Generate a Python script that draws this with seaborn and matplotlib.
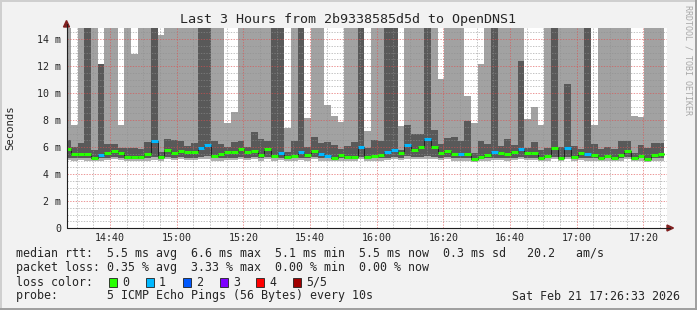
import numpy as np
import pandas as pd
import matplotlib
matplotlib.use("Agg")
import matplotlib.pyplot as plt
from matplotlib.patches import Rectangle, Polygon
from matplotlib.lines import Line2D
import seaborn as sns

# ---------------- data ----------------
# time axis in minutes after 14:00; each bar is a 2-minute consolidated step
first_bar_start = 26 + 20 / 60.0      # 14:26:20
bar_minutes = 2.0
view_start = 26.95
view_end = 206.95

median_ms = [5.87, 5.50, 5.50, 5.50, 5.21, 5.41, 5.58, 5.73, 5.58, 5.26,
             5.26, 5.26, 5.50, 6.45, 5.26, 5.81, 5.58, 5.73, 5.66, 5.66,
             5.95, 6.17, 5.37, 5.45, 5.66, 5.66, 5.83, 5.66, 5.73, 5.41,
             5.83, 5.34, 5.58, 5.29, 5.37, 5.66, 5.41, 5.73, 5.50, 5.37,
             5.21, 5.43, 5.29, 5.29, 6.02, 5.26, 5.37, 5.43, 5.66, 5.81,
             5.56, 6.17, 5.81, 6.02, 6.59, 6.00, 5.58, 5.73, 5.50, 5.50,
             5.50, 5.14, 5.29, 5.43, 5.66, 5.58, 5.50, 5.66, 5.88, 5.58,
             5.58, 5.21, 5.37, 5.95, 5.21, 5.95, 5.29, 5.58, 5.50, 5.43,
             5.21, 5.37, 5.21, 5.43, 5.73, 5.21, 5.37, 5.14, 5.43, 5.50]

loss_count = [0, 0, 0, 0, 0, 1, 0, 0, 0, 0,
              0, 0, 0, 1, 0, 0, 0, 0, 0, 0,
              1, 1, 0, 0, 0, 0, 0, 0, 0, 0,
              0, 0, 1, 0, 0, 1, 0, 0, 1, 1,
              0, 0, 0, 0, 1, 0, 0, 0, 1, 1,
              0, 1, 0, 0, 1, 0, 0, 0, 0, 1,
              0, 0, 0, 0, 1, 0, 0, 0, 1, 0,
              0, 0, 0, 0, 0, 1, 0, 0, 1, 0,
              0, 0, 0, 0, 0, 0, 0, 0, 0, 0]

smoke_lo = [5.05, 5.00, 5.02, 5.00, 4.93, 4.98, 5.03, 5.08, 5.05, 4.93,
            4.95, 4.93, 5.00, 5.05, 4.95, 5.08, 5.03, 5.08, 5.05, 5.05,
            5.10, 5.10, 4.98, 5.00, 5.05, 5.05, 5.08, 5.03, 5.08, 4.98,
            5.08, 4.98, 5.03, 4.95, 4.98, 5.05, 4.98, 5.08, 5.00, 4.98,
            4.93, 5.00, 4.95, 4.95, 5.10, 4.93, 4.98, 5.00, 5.05, 5.08,
            5.03, 5.10, 5.08, 5.10, 5.12, 5.10, 5.03, 5.08, 5.00, 5.00,
            5.00, 4.90, 4.95, 5.00, 5.05, 5.03, 5.00, 5.05, 5.08, 5.03,
            5.03, 4.93, 4.98, 5.08, 4.93, 5.08, 4.95, 5.03, 5.00, 5.00,
            4.93, 4.98, 4.93, 5.00, 5.08, 4.93, 4.98, 4.90, 5.00, 5.00]

dark_lo = [5.22, 5.18, 5.20, 5.18, 5.10, 5.16, 5.20, 5.25, 5.22, 5.10,
           5.12, 5.10, 5.18, 5.25, 5.12, 5.25, 5.20, 5.25, 5.22, 5.22,
           5.28, 5.30, 5.15, 5.18, 5.22, 5.22, 5.25, 5.20, 5.25, 5.16,
           5.25, 5.15, 5.20, 5.12, 5.15, 5.22, 5.16, 5.25, 5.18, 5.15,
           5.10, 5.18, 5.12, 5.12, 5.28, 5.10, 5.15, 5.18, 5.22, 5.25,
           5.20, 5.30, 5.25, 5.28, 5.32, 5.28, 5.20, 5.25, 5.18, 5.18,
           5.18, 5.06, 5.12, 5.18, 5.22, 5.20, 5.18, 5.22, 5.25, 5.20,
           5.20, 5.10, 5.15, 5.25, 5.10, 5.25, 5.12, 5.20, 5.18, 5.18,
           5.10, 5.15, 5.10, 5.18, 5.25, 5.10, 5.15, 5.06, 5.18, 5.18]

dark_hi = [6.52, 6.02, 6.32, 15.0, 5.78, 12.15, 6.20, 6.20, 5.90, 5.90,
           5.90, 5.85, 6.40, 15.0, 5.66, 6.59, 6.52, 6.44, 6.07, 6.32,
           15.0, 15.0, 6.44, 6.20, 6.02, 6.40, 6.44, 6.02, 7.11, 6.57,
           6.44, 15.0, 15.0, 5.66, 6.44, 15.0, 6.02, 6.74, 6.27, 6.37,
           6.15, 5.85, 6.07, 6.37, 15.0, 5.90, 6.52, 6.44, 15.0, 15.0,
           5.75, 7.63, 6.96, 6.96, 15.0, 7.23, 6.22, 6.64, 6.74, 6.44,
           7.93, 5.53, 6.44, 6.20, 15.0, 6.07, 6.59, 6.15, 12.37, 5.95,
           6.40, 5.78, 5.95, 15.0, 6.02, 10.67, 6.07, 5.85, 15.0, 6.22,
           5.85, 6.02, 5.85, 6.44, 6.44, 5.55, 6.15, 5.95, 6.32, 6.32]

smoke_hi = [15.0, 7.65, 15.0, 15.0, 15.0, 12.15, 15.0, 15.0, 7.65, 15.0,
            12.89, 15.0, 15.0, 15.0, 14.32, 15.0, 15.0, 15.0, 15.0, 15.0,
            15.0, 15.0, 15.0, 15.0, 7.80, 8.62, 15.0, 15.0, 15.0, 15.0,
            15.0, 15.0, 15.0, 7.41, 15.0, 15.0, 8.17, 15.0, 15.0, 9.11,
            8.30, 7.88, 15.0, 15.0, 15.0, 7.19, 15.0, 15.0, 15.0, 15.0,
            7.56, 15.0, 15.0, 15.0, 15.0, 15.0, 11.06, 15.0, 15.0, 15.0,
            9.78, 7.80, 12.15, 15.0, 15.0, 15.0, 15.0, 15.0, 15.0, 8.05,
            8.96, 7.63, 15.0, 15.0, 15.0, 15.0, 15.0, 15.0, 15.0, 7.63,
            15.0, 15.0, 15.0, 15.0, 15.0, 8.30, 8.23, 15.0, 15.0, 15.0]

x_tick_minutes = [40, 60, 80, 100, 120, 140, 160, 180, 200]
x_tick_labels = ["14:40", "15:00", "15:20", "15:40", "16:00",
                 "16:20", "16:40", "17:00", "17:20"]
y_tick_values = [0, 2, 4, 6, 8, 10, 12, 14]
y_tick_labels = ["0", "2 m", "4 m", "6 m", "8 m", "10 m", "12 m", "14 m"]

loss_labels = ["0", "1", "2", "3", "4", "5/5"]
loss_colors = ["#26ff00", "#00b8ff", "#0059ff", "#7e00ff", "#ff0000", "#a10000"]

title = "Last 3 Hours from 2b9338585d5d to OpenDNS1"
legend_rtt = "median rtt:  5.5 ms avg  6.6 ms max  5.1 ms min  5.5 ms now  0.3 ms sd   20.2   am/s"
legend_loss = "packet loss: 0.35 % avg  3.33 % max  0.00 % min  0.00 % now"
legend_probe = "probe:       5 ICMP Echo Pings (56 Bytes) every 10s"
stamp = "Sat Feb 21 17:26:33 2026"

# ---------------- style ----------------
sns.set_theme(style="white")
MONO = ["DejaVu Sans Mono", "DejaVu Sans"]
plt.rcParams["font.family"] = MONO

W, H = 697, 310
BACK = "#f2f2f2"
LIGHT = "#a2a2a2"
DARK = "#595959"
LOW = "#b0b0b0"

fig = plt.figure(figsize=(W / 100, H / 100), dpi=100, facecolor=BACK)

def fx(px):
    return px / W

def fy(py):
    return 1 - py / H

ax_left, ax_top, ax_w, ax_h = 66.5, 28, 600, 200
ax = fig.add_axes([fx(ax_left), fy(ax_top + ax_h), ax_w / W, ax_h / H])
ax.set_facecolor("white")
ax.set_xlim(view_start, view_end)
ax.set_ylim(0, 14.815)
for s in ax.spines.values():
    s.set_visible(False)

n = len(median_ms)
bar_x = [first_bar_start + bar_minutes * i for i in range(n)]
df = pd.DataFrame({"t": bar_x, "med": median_ms, "loss": loss_count,
                   "lo": smoke_lo, "dlo": dark_lo, "dhi": dark_hi, "hi": smoke_hi})

# smoke layers
ax.bar(df.t, df.dlo - df.lo, bottom=df.lo, width=bar_minutes, align="edge",
       color=LOW, linewidth=0, zorder=1)
ax.bar(df.t, df.dhi - df.dlo, bottom=df.dlo, width=bar_minutes, align="edge",
       color=DARK, linewidth=0, zorder=1)
ax.bar(df.t, (df.hi - df.dhi).clip(lower=0), bottom=df.dhi, width=bar_minutes,
       align="edge", color=LIGHT, linewidth=0, zorder=1)

# grid (dotted, drawn over the smoke)
GRID = (0.56, 0.56, 0.56, 0.55)
MGRID = (0.87, 0.31, 0.31, 0.6)
dot = (0, (1.4, 1.4))
for v in np.arange(0.5, 14.8, 0.5):
    if abs(v % 2) > 1e-6:
        ax.axhline(v, color=GRID, lw=0.7, ls=dot, zorder=2)
for m in range(30, 207, 5):
    if m % 20 != 0:
        ax.axvline(m, color=GRID, lw=0.7, ls=dot, zorder=2)
for v in y_tick_values[1:]:
    ax.axhline(v, color=MGRID, lw=0.7, ls=dot, zorder=2)
for m in x_tick_minutes:
    ax.axvline(m, color=MGRID, lw=0.7, ls=dot, zorder=2)

# median line
step_x = bar_x + [bar_x[-1] + bar_minutes]
step_y = median_ms + [median_ms[-1]]
sns.lineplot(x=step_x, y=step_y, drawstyle="steps-post", color="#202020",
             lw=0.7, ax=ax, zorder=3, estimator=None, sort=False)
ax.hlines(df.med, df.t, df.t + bar_minutes,
          colors=[loss_colors[k] for k in df.loss], lw=2.2, zorder=4)

# ticks
ax.set_xticks(x_tick_minutes, x_tick_labels)
ax.set_xticks(range(30, 207, 5), minor=True)
ax.set_yticks(y_tick_values, y_tick_labels)
ax.set_yticks(np.arange(0, 14.8, 0.5), minor=True)
ax.tick_params(axis="both", which="major", direction="inout", length=3,
               width=0.7, color="#1f1f1f", labelsize=7.2, pad=2.5)
ax.tick_params(axis="both", which="minor", direction="inout", length=2,
               width=0.7, color="#1f1f1f")
ax.tick_params(axis="x", pad=2.0)
ax.set_xlabel("")
ax.set_ylabel("")

# axes lines + arrows
AX = "#1f1f1f"
ARROW = "#801f1f"
fig.add_artist(Line2D([fx(ax_left), fx(ax_left)], [fy(228), fy(24)], color=AX, lw=0.8))
fig.add_artist(Line2D([fx(ax_left), fx(670)], [fy(228), fy(228)], color=AX, lw=0.8))
fig.add_artist(Polygon([[fx(63.5), fy(27)], [fx(69.5), fy(27)], [fx(66.5), fy(20.5)]],
                       closed=True, color=ARROW, transform=fig.transFigure))
fig.add_artist(Polygon([[fx(667), fy(225)], [fx(667), fy(231)], [fx(673.5), fy(228)]],
                       closed=True, color=ARROW, transform=fig.transFigure))

# texts
fig.text(fx(348.5), fy(19), title, ha="center", va="center", fontsize=9.6)
fig.text(fx(10), fy(128), "Seconds", rotation=90, ha="center", va="center", fontsize=7.7)
fig.text(fx(688), fy(60), "RRDTOOL / TOBI OETIKER", rotation=270, ha="center",
         va="center", fontsize=6, color="#a8a8a8")

LEG_FS = 8.4
fig.text(fx(16), fy(254), legend_rtt, ha="left", va="center", fontsize=LEG_FS)
fig.text(fx(16), fy(268), legend_loss, ha="left", va="center", fontsize=LEG_FS)
fig.text(fx(16), fy(282), "loss color:", ha="left", va="center", fontsize=LEG_FS)
fig.text(fx(16), fy(296), legend_probe, ha="left", va="center", fontsize=LEG_FS)
fig.text(fx(680), fy(296), stamp, ha="right", va="center", fontsize=LEG_FS)

box_left = [109, 146, 183, 220, 256, 293]
for bl, lab, col in zip(box_left, loss_labels, loss_colors):
    fig.add_artist(Rectangle((fx(bl), fy(286.5)), 8 / W, 9 / H, facecolor=col,
                             edgecolor="#202020", lw=0.6, transform=fig.transFigure))
    fig.text(fx(bl + 13), fy(282), lab, ha="left", va="center", fontsize=LEG_FS)

# frame shading
fig.add_artist(Line2D([0, 1], [fy(0.7), fy(0.7)], color="#cfcfcf", lw=1.4))
fig.add_artist(Line2D([fx(0.7), fx(0.7)], [0, 1], color="#cfcfcf", lw=1.4))
fig.add_artist(Line2D([0, 1], [fy(H - 0.7), fy(H - 0.7)], color="#9e9e9e", lw=1.4))
fig.add_artist(Line2D([fx(W - 0.7), fx(W - 0.7)], [0, 1], color="#9e9e9e", lw=1.4))

fig.savefig("out.png", dpi=100, facecolor=BACK)
